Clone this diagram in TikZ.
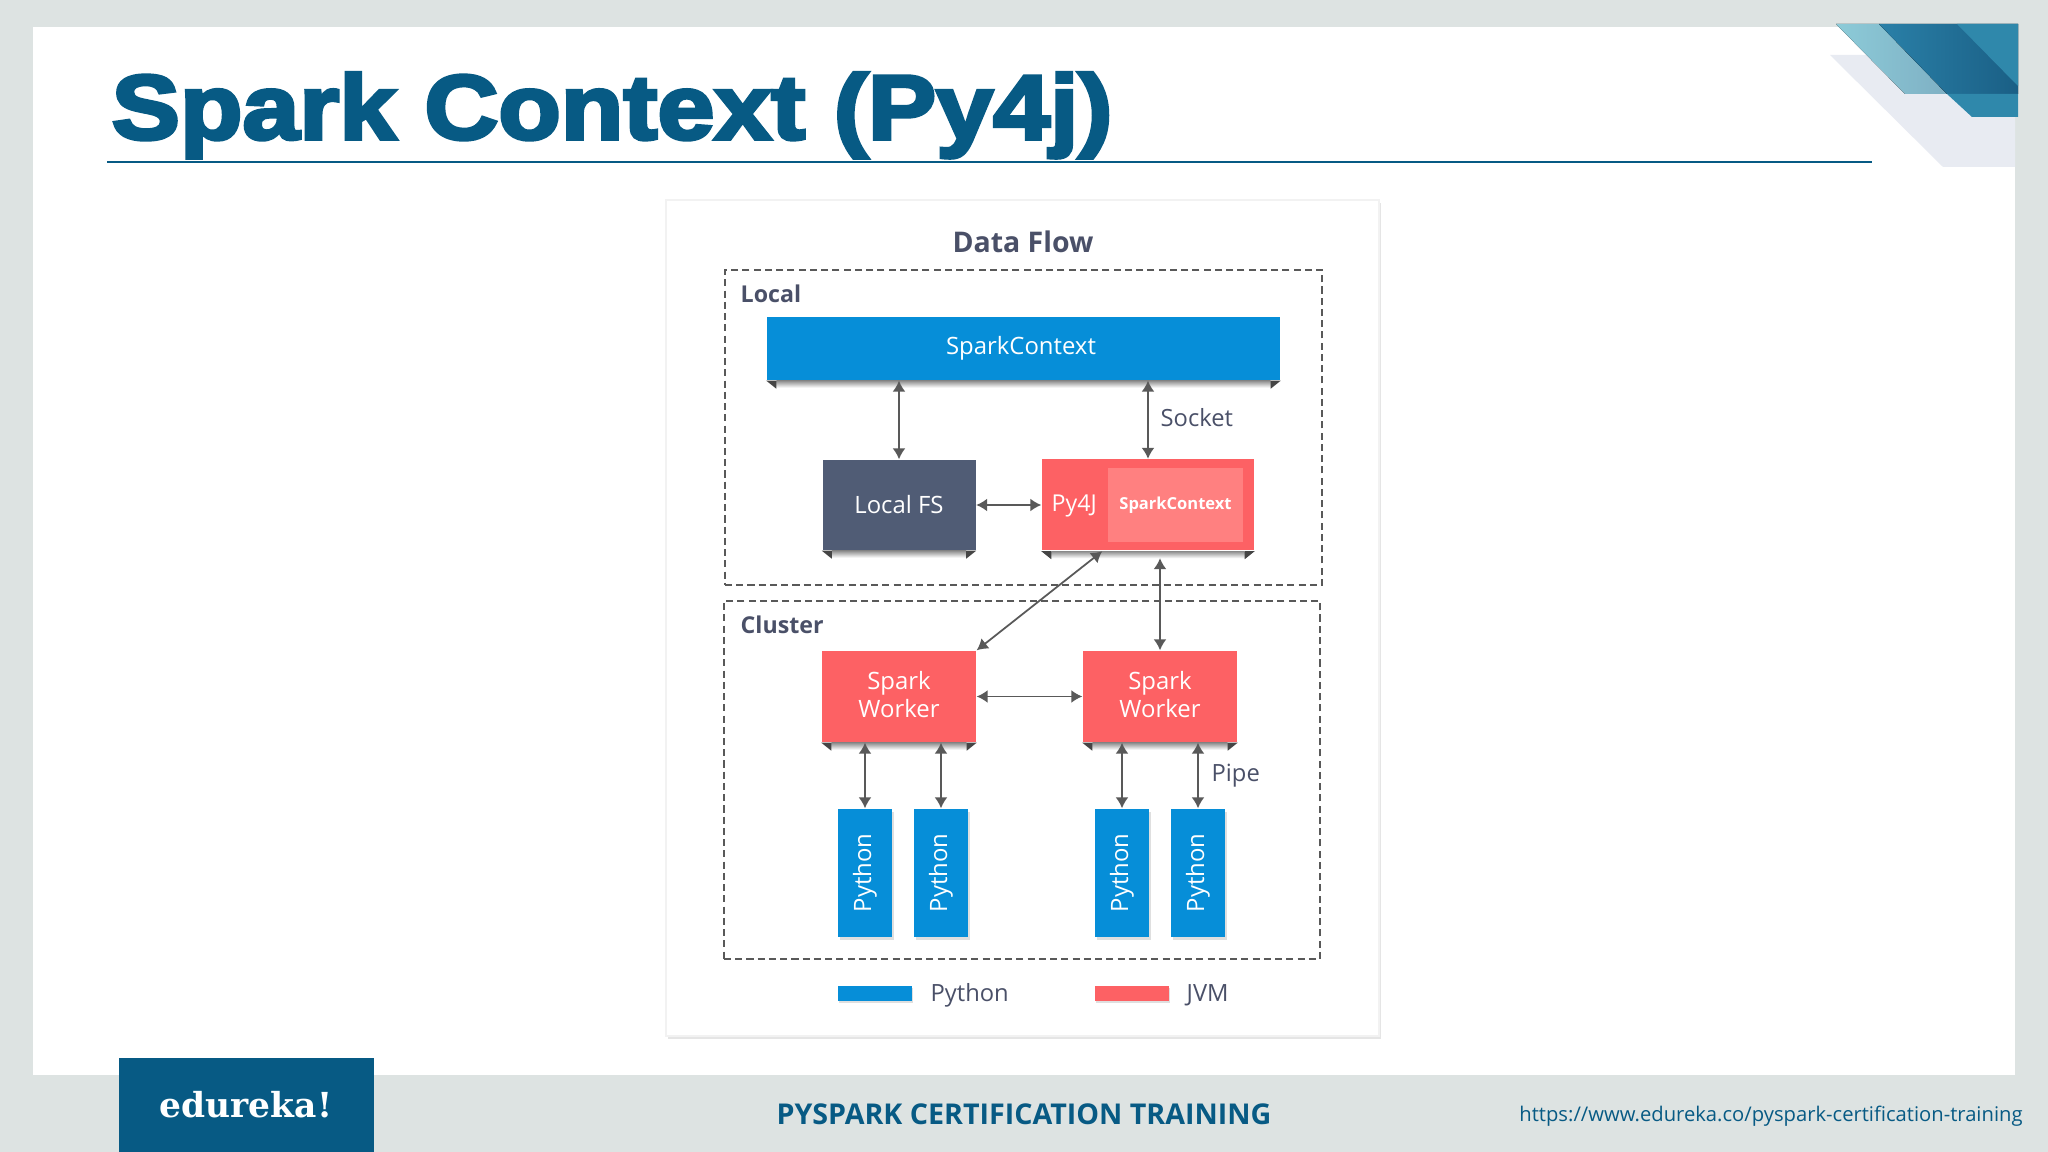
\documentclass[tikz,border=0pt]{standalone}
\usepackage{graphicx}
\usepackage{fontspec}
\usepackage{xcolor}
\setmainfont{Open Sans}
\newfontfamily\titlefont[FakeBold=4,FakeStretch=1.12]{Liberation Sans Bold}
\newfontfamily\logofont{DejaVu Serif}
\usetikzlibrary{arrows.meta,shadows}
\definecolor{slidegrey}{HTML}{DDE3E2}
\definecolor{titleblue}{HTML}{075A84}
\definecolor{pyblue}{HTML}{068ED8}
\definecolor{jvmred}{HTML}{FD6164}
\definecolor{fsnavy}{HTML}{505C75}
\definecolor{innerred}{HTML}{FF8080}
\definecolor{labelgrey}{HTML}{4A5068}
\definecolor{arrowgrey}{HTML}{595959}
\definecolor{foldgrey}{HTML}{454545}
\definecolor{palecorner}{HTML}{E8EBF2}
\definecolor{tealA}{HTML}{8CCBD8}
\definecolor{tealB}{HTML}{7FB0C4}
\definecolor{deepA}{HTML}{2A80A8}
\definecolor{deepB}{HTML}{1A5F85}
\definecolor{midteal}{HTML}{2F88AB}
\tikzset{
	box/.style={inner sep=0pt,align=center,text=white,font=\fontsize{6.8}{8.1}\selectfont},
	ctxbox/.style={box,fill=pyblue,minimum width=5.13cm,minimum height=.63cm},
	fsbox/.style={box,fill=fsnavy,minimum width=1.53cm,minimum height=.90cm},
	jvmbox/.style={box,fill=jvmred,minimum width=1.54cm,minimum height=.91cm},
	pybox/.style={box,fill=pyblue,minimum width=.54cm,minimum height=1.28cm,drop shadow={shadow xshift=.02cm,shadow yshift=-.03cm,opacity=.25}},
	keybox/.style={fill=#1,minimum width=.74cm,minimum height=.15cm,inner sep=0pt,drop shadow={shadow xshift=.01cm,shadow yshift=-.02cm,opacity=.25}},
	group/.style={draw=black!65,dash pattern=on 2pt off 1.2pt,line width=.4pt,inner sep=0pt},
	grouplabel/.style={text=labelgrey,font=\bfseries\fontsize{6.6}{8}\selectfont,anchor=west,inner sep=0pt},
	plainlabel/.style={text=labelgrey,font=\fontsize{6.75}{8}\selectfont,anchor=west,inner sep=0pt},
	link/.style={draw=arrowgrey,line width=.5pt,{Latex[length=.11cm,width=.13cm]}-{Latex[length=.11cm,width=.13cm]}}
}
% little folded corners and the shade under a box
\newcommand{\foldbox}[1]{
	\shade[top color=black!45,bottom color=white] ([xshift=.1cm]#1.south west) rectangle ([xshift=-.1cm,yshift=-.07cm]#1.south east);
	\fill[foldgrey] (#1.south west) -- ++(.1,0) -- ++(0,.08) -- cycle;
	\fill[foldgrey] (#1.south east) -- ++(-.1,0) -- ++(0,.08) -- cycle;
}
\begin{document}
\begin{tikzpicture}[x=1cm,y=-1cm]
	\useasboundingbox (0,0) rectangle (20.48,11.52);
	\fill[slidegrey] (0,0) rectangle (20.48,11.52);
	\fill[white] (.33,.27) rectangle (20.15,10.75);
	% corner decoration
	\fill[palecorner] (18.30,.55) -- (20.15,.55) -- (20.15,1.67) -- (19.43,1.67) -- cycle;
	\fill[left color=tealA,right color=tealB] (18.36,.24) -- (18.79,.24) -- (19.47,.94) -- (19.05,.94) -- cycle;
	\fill[left color=deepA,right color=deepB] (18.79,.24) -- (20.18,.24) -- (20.18,.94) -- (19.47,.94) -- cycle;
	\fill[midteal] (19.57,.24) -- (20.18,.24) -- (20.18,.86) -- cycle;
	\fill[midteal] (19.47,.94) -- (20.18,.94) -- (20.18,1.17) -- (19.72,1.17) -- cycle;
	% title and footer
	\node[text=titleblue,font=\titlefont\fontsize{26}{30}\selectfont,anchor=base west,inner sep=0pt] (title) at (1.11,1.39) {Spark Context (Py4j)};
	\draw[titleblue,line width=.5pt] (1.07,1.62) -- (18.72,1.62);
	\fill[titleblue] (1.19,10.58) rectangle (3.74,11.52);
	\node[text=white,font=\logofont\bfseries\fontsize{9.8}{12}\selectfont,inner sep=0pt] (logo) at (2.46,11.05) {edureka!};
	\node[text=titleblue,font=\bfseries\fontsize{8.15}{10}\selectfont,inner sep=0pt] (course) at (10.24,11.14) {PYSPARK CERTIFICATION TRAINING};
	\node[text=titleblue,font=\fontsize{5.75}{7}\selectfont,inner sep=0pt] (url) at (17.71,11.16) {https://www.edureka.co/pyspark-certification-training};
	% card
	\node[fill=white,draw=black!5,minimum width=7.13cm,minimum height=8.36cm,inner sep=0pt,drop shadow={shadow xshift=.02cm,shadow yshift=-.03cm,opacity=.2}] (card) at (10.225,6.18) {};
	\node[text=labelgrey,font=\bfseries\fontsize{8.1}{10}\selectfont,inner sep=0pt] (flow) at (10.23,2.42) {Data Flow};
	\node[group,minimum width=5.97cm,minimum height=3.15cm] (local) at (10.235,4.275) {};
	\node[group,minimum width=5.96cm,minimum height=3.58cm] (cluster) at (10.22,7.80) {};
	\node[grouplabel] (locallabel) at (7.40,2.94) {Local};
	\node[grouplabel] (clusterlabel) at (7.40,6.25) {Cluster};
	% local part
	\node[ctxbox] (ctx) at (10.235,3.485) {SparkContext\hspace*{.05cm}};
	\node[fsbox] (lfs) at (8.99,5.05) {Local FS};
	\node[jvmbox,minimum width=2.12cm] (py4j) at (11.48,5.05) {};
	\node[box,fill=innerred,minimum width=1.35cm,minimum height=.74cm,font=\bfseries\fontsize{4.7}{6}\selectfont] (inner) at (11.755,5.05) {SparkContext};
	\node[box,anchor=west,font=\fontsize{6.6}{8}\selectfont] (py4jlabel) at (10.51,5.06) {Py4J};
	\foldbox{ctx}
	\foldbox{lfs}
	\foldbox{py4j}
	% cluster part
	\node[jvmbox] (worker1) at (8.99,6.965) {Spark\\Worker\vspace*{.04cm}};
	\node[jvmbox] (worker2) at (11.60,6.965) {Spark\\Worker\vspace*{.04cm}};
	\foldbox{worker1}
	\foldbox{worker2}
	\node[pybox] (python1) at (8.65,8.73) {\rotatebox{90}{Python}};
	\node[pybox] (python2) at (9.41,8.73) {\rotatebox{90}{Python}};
	\node[pybox] (python3) at (11.22,8.73) {\rotatebox{90}{Python}};
	\node[pybox] (python4) at (11.98,8.73) {\rotatebox{90}{Python}};
	% arrows
	\draw[link] (ctx.south -| lfs) -- (lfs.north);
	\draw[link] (ctx.south -| py4j) -- (py4j.north);
	\draw[link] (lfs.east |- py4j) -- (py4j.west);
	\draw[link] ([xshift=.61cm]py4j.south west) -- (worker1.north east);
	\draw[link,shorten <=.07cm] (py4j.south -| worker2) -- (worker2.north);
	\draw[link] (worker1) -- (worker2);
	\draw[link] (worker1.south -| python1) -- (python1.north);
	\draw[link] (worker1.south -| python2) -- (python2.north);
	\draw[link] (worker2.south -| python3) -- (python3.north);
	\draw[link] (worker2.south -| python4) -- (python4.north);
	\node[plainlabel] (socket) at (11.60,4.18) {Socket};
	\node[plainlabel] (pipe) at (12.11,7.76) {Pipe};
	% legend
	\node[keybox=pyblue] (keypy) at (8.745,9.935) {};
	\node[plainlabel] (keypylabel) at (9.30,9.95) {Python};
	\node[keybox=jvmred] (keyjvm) at (11.32,9.935) {};
	\node[plainlabel] (keyjvmlabel) at (11.86,9.95) {JVM};
\end{tikzpicture}
\end{document}
